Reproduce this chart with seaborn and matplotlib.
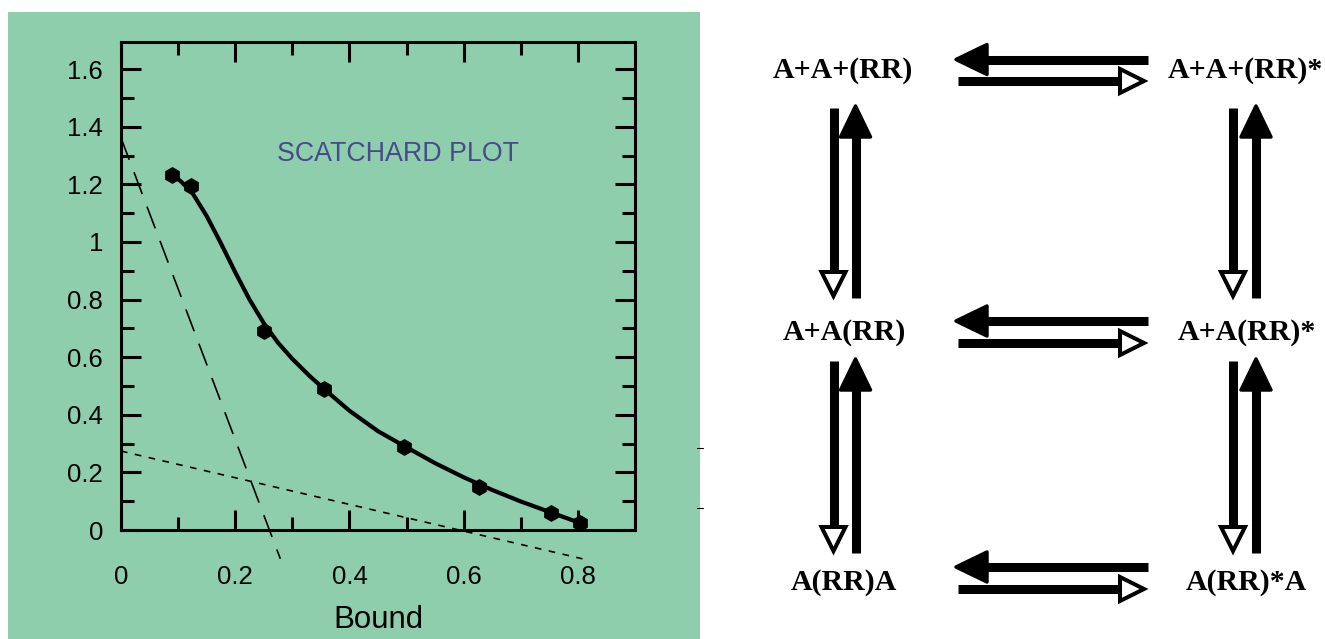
import numpy as np
import pandas as pd
import seaborn as sns
import matplotlib.pyplot as plt
from matplotlib.patches import Rectangle, Polygon
from matplotlib.ticker import FixedLocator, FixedFormatter, MultipleLocator

# measured points (bound vs bound/free)
bound = [0.090, 0.122, 0.250, 0.356, 0.496, 0.627, 0.753, 0.804]
ratio = [1.233, 1.194, 0.691, 0.489, 0.287, 0.150, 0.060, 0.025]

# fitted curve
fit_x = [0.090, 0.105, 0.125, 0.150, 0.175, 0.200, 0.225, 0.250, 0.275, 0.300,
         0.330, 0.360, 0.400, 0.450, 0.500, 0.550, 0.600, 0.650, 0.700, 0.750, 0.800]
fit_y = [1.233, 1.210, 1.170, 1.090, 0.995, 0.895, 0.800, 0.718, 0.650, 0.594,
         0.535, 0.482, 0.414, 0.343, 0.287, 0.232, 0.183, 0.139, 0.099, 0.063, 0.027]

# the two component lines (high / low affinity sites)
high_x = [0.0, 0.279]
high_y = [1.361, -0.10]
low_x = [0.0, 0.808]
low_y = [0.274, -0.10]

x_ticks = [0, 0.2, 0.4, 0.6, 0.8]
x_labels = ['0', '0.2', '0.4', '0.6', '0.8']
y_ticks = [0, 0.2, 0.4, 0.6, 0.8, 1.0, 1.2, 1.4, 1.6]
y_labels = ['0', '0.2', '0.4', '0.6', '0.8', '1', '1.2', '1.4', '1.6']

# scheme on the right
node_labels = ['A+A+(RR)', 'A+A+(RR)*', 'A+A(RR)', 'A+A(RR)*', 'A(RR)A', 'A(RR)*A']
node_x = [843, 1245, 844, 1247, 844, 1246]
node_y = [70, 70, 333, 333, 582, 582]

green = '#8fceac'

sns.set_style('ticks')
plt.rcParams['font.family'] = ['Liberation Sans', 'DejaVu Sans']

fig = plt.figure(figsize=(13.25, 6.39), dpi=100)
W, H = 1325, 639
fig.patches.append(Rectangle((8 / W, 0), 692 / W, 627 / H, transform=fig.transFigure,
                             fc=green, ec='none', zorder=-5))

ax = fig.add_axes([121 / W, (H - 530) / H, 514 / W, 488 / H])
ax.set_facecolor('none')

sns.lineplot(x=high_x, y=high_y, ax=ax, color='k', lw=1.2, linestyle=(0, (14, 8)),
             clip_on=False, sort=False)
sns.lineplot(x=low_x, y=low_y, ax=ax, color='k', lw=1.2, linestyle=(0, (4, 4.5)),
             clip_on=False, sort=False)
sns.lineplot(x=fit_x, y=fit_y, ax=ax, color='k', lw=3, sort=False,
             solid_joinstyle='round', solid_capstyle='round')
sns.scatterplot(x=bound, y=ratio, ax=ax, marker='h', s=125, color='k',
                edgecolor='k', zorder=5, clip_on=False)

ax.text(0.485, 1.305, 'SCATCHARD PLOT', ha='center', va='center',
        fontsize=19.3, color='#484a8c')

ax.set_xlim(0, 0.9)
ax.set_ylim(0, 1.694)
ax.xaxis.set_major_locator(FixedLocator(x_ticks))
ax.xaxis.set_major_formatter(FixedFormatter(x_labels))
ax.yaxis.set_major_locator(FixedLocator(y_ticks))
ax.yaxis.set_major_formatter(FixedFormatter(y_labels))
ax.xaxis.set_minor_locator(MultipleLocator(0.1))
ax.yaxis.set_minor_locator(MultipleLocator(0.1))

for s in ax.spines.values():
    s.set_linewidth(2.2)
    s.set_color('k')
ax.tick_params(which='both', direction='in', top=True, right=True,
               width=2.2, color='k', labelsize=18.5, labelcolor='k')
ax.tick_params(which='major', length=14.5)
ax.tick_params(which='minor', length=9.5)
ax.tick_params(axis='x', which='major', pad=25)
ax.tick_params(axis='y', which='major', pad=13)
ax.set_xlabel('Bound', fontsize=22.5, labelpad=12, color='k')
ax.set_ylabel('')

# overlay in pixel coordinates for the reaction scheme
ov = fig.add_axes([0, 0, 1, 1])
ov.set_xlim(0, W)
ov.set_ylim(H, 0)
ov.set_axis_off()


def solid_arrow(tail, tip):
    tail = np.array(tail, float)
    tip = np.array(tip, float)
    d = (tip - tail) / np.linalg.norm(tip - tail)
    p = np.array([-d[1], d[0]])
    end = tip - d * 20
    ov.plot([tail[0], end[0]], [tail[1], end[1]], color='k', lw=6.5,
            solid_capstyle='butt')
    back = tip - d * 31
    ov.add_patch(Polygon([tip, back + p * 15, back - p * 15], closed=True,
                         fc='k', ec='k', lw=2.5, joinstyle='round'))


def hollow_arrow(tail, tip):
    tail = np.array(tail, float)
    tip = np.array(tip, float)
    d = (tip - tail) / np.linalg.norm(tip - tail)
    p = np.array([-d[1], d[0]])
    base = tip - d * 24
    ov.plot([tail[0], base[0]], [tail[1], base[1]], color='k', lw=6.5,
            solid_capstyle='butt')
    ov.add_patch(Polygon([tip, base + p * 12, base - p * 12], closed=True,
                         fc='white', ec='k', lw=2.9, joinstyle='miter'))


# horizontal pairs
for yu, yd in [(59.5, 81), (321, 343), (567, 589)]:
    solid_arrow((1148, yu), (956, yu))
    hollow_arrow((958, yd), (1144, yd))

# vertical pairs
for xd, xu in [(833.5, 855.5), (1233, 1256)]:
    for y0, y1 in [(108, 298), (361, 553)]:
        hollow_arrow((xd, y0), (xd, y1 - 2))
        solid_arrow((xu, y1), (xu, y0 - 2))

for lab, x, y in zip(node_labels, node_x, node_y):
    ov.text(x, y, lab, ha='center', va='center', fontsize=21.5,
            fontweight='bold', family='Liberation Serif', color='k')

# stray marks at the edge of the panel
for y in [448, 508]:
    ov.plot([697, 703], [y, y], color='k', lw=0.8)

fig.savefig('out.png', dpi=100)
